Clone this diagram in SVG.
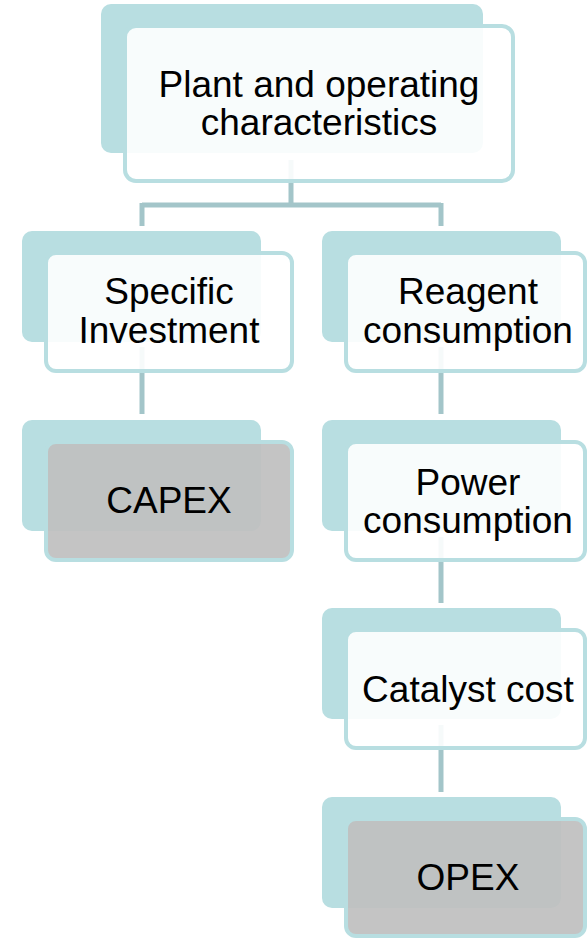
<svg xmlns="http://www.w3.org/2000/svg" width="588" height="938" viewBox="0 0 588 938">
<style>
.back{fill:#b8dee1}
.front{fill:#ffffff;fill-opacity:0.9;stroke:#b8dee1;stroke-width:4}
.grey{fill:#bfbfbf;fill-opacity:0.93;stroke:#b8dee1;stroke-width:4}
.conn{stroke:#a3c5c9;stroke-width:5;fill:none}
text{font-family:"Liberation Sans",Arial,sans-serif;font-size:37px;fill:#000;text-anchor:middle}
</style>
<rect width="588" height="938" fill="#ffffff"/>
<g id="connectors">
<path class="conn" d="M291,160 V205 M142,205 H441 M142,203 V226 M441,203 V226"/>
<path class="conn" d="M142,347 V414"/>
<path class="conn" d="M441,347 V414"/>
<path class="conn" d="M441,537 V603"/>
<path class="conn" d="M441,725 V792"/>
</g>
<g id="plant">
<rect class="back" x="101" y="4" width="382" height="149" rx="10"/>
<rect class="front" x="125" y="26" width="388" height="155" rx="11"/>
<text x="319" y="97">Plant and operating</text>
<text x="319" y="135">characteristics</text>
</g>
<g id="specific">
<rect class="back" x="22" y="231" width="239" height="111" rx="10"/>
<rect class="front" x="46" y="253" width="246" height="118" rx="10"/>
<text x="169" y="304">Specific</text>
<text x="169" y="343">Investment</text>
</g>
<g id="capex">
<rect class="back" x="22" y="420" width="239" height="111" rx="10"/>
<rect class="grey" x="46" y="442" width="246" height="118" rx="10"/>
<text x="169" y="513">CAPEX</text>
</g>
<g id="reagent">
<rect class="back" x="322" y="231" width="239" height="111" rx="10"/>
<rect class="front" x="346" y="253" width="239" height="118" rx="10"/>
<text x="468" y="304">Reagent</text>
<text x="468" y="343">consumption</text>
</g>
<g id="power">
<rect class="back" x="322" y="420" width="239" height="111" rx="10"/>
<rect class="front" x="346" y="442" width="239" height="118" rx="10"/>
<text x="468" y="495">Power</text>
<text x="468" y="533">consumption</text>
</g>
<g id="catalyst">
<rect class="back" x="322" y="608" width="239" height="111" rx="10"/>
<rect class="front" x="346" y="630" width="239" height="118" rx="10"/>
<text x="468" y="702">Catalyst cost</text>
</g>
<g id="opex">
<rect class="back" x="322" y="797" width="239" height="111" rx="10"/>
<rect class="grey" x="346" y="819" width="239" height="117" rx="10"/>
<text x="468" y="890">OPEX</text>
</g>
</svg>
